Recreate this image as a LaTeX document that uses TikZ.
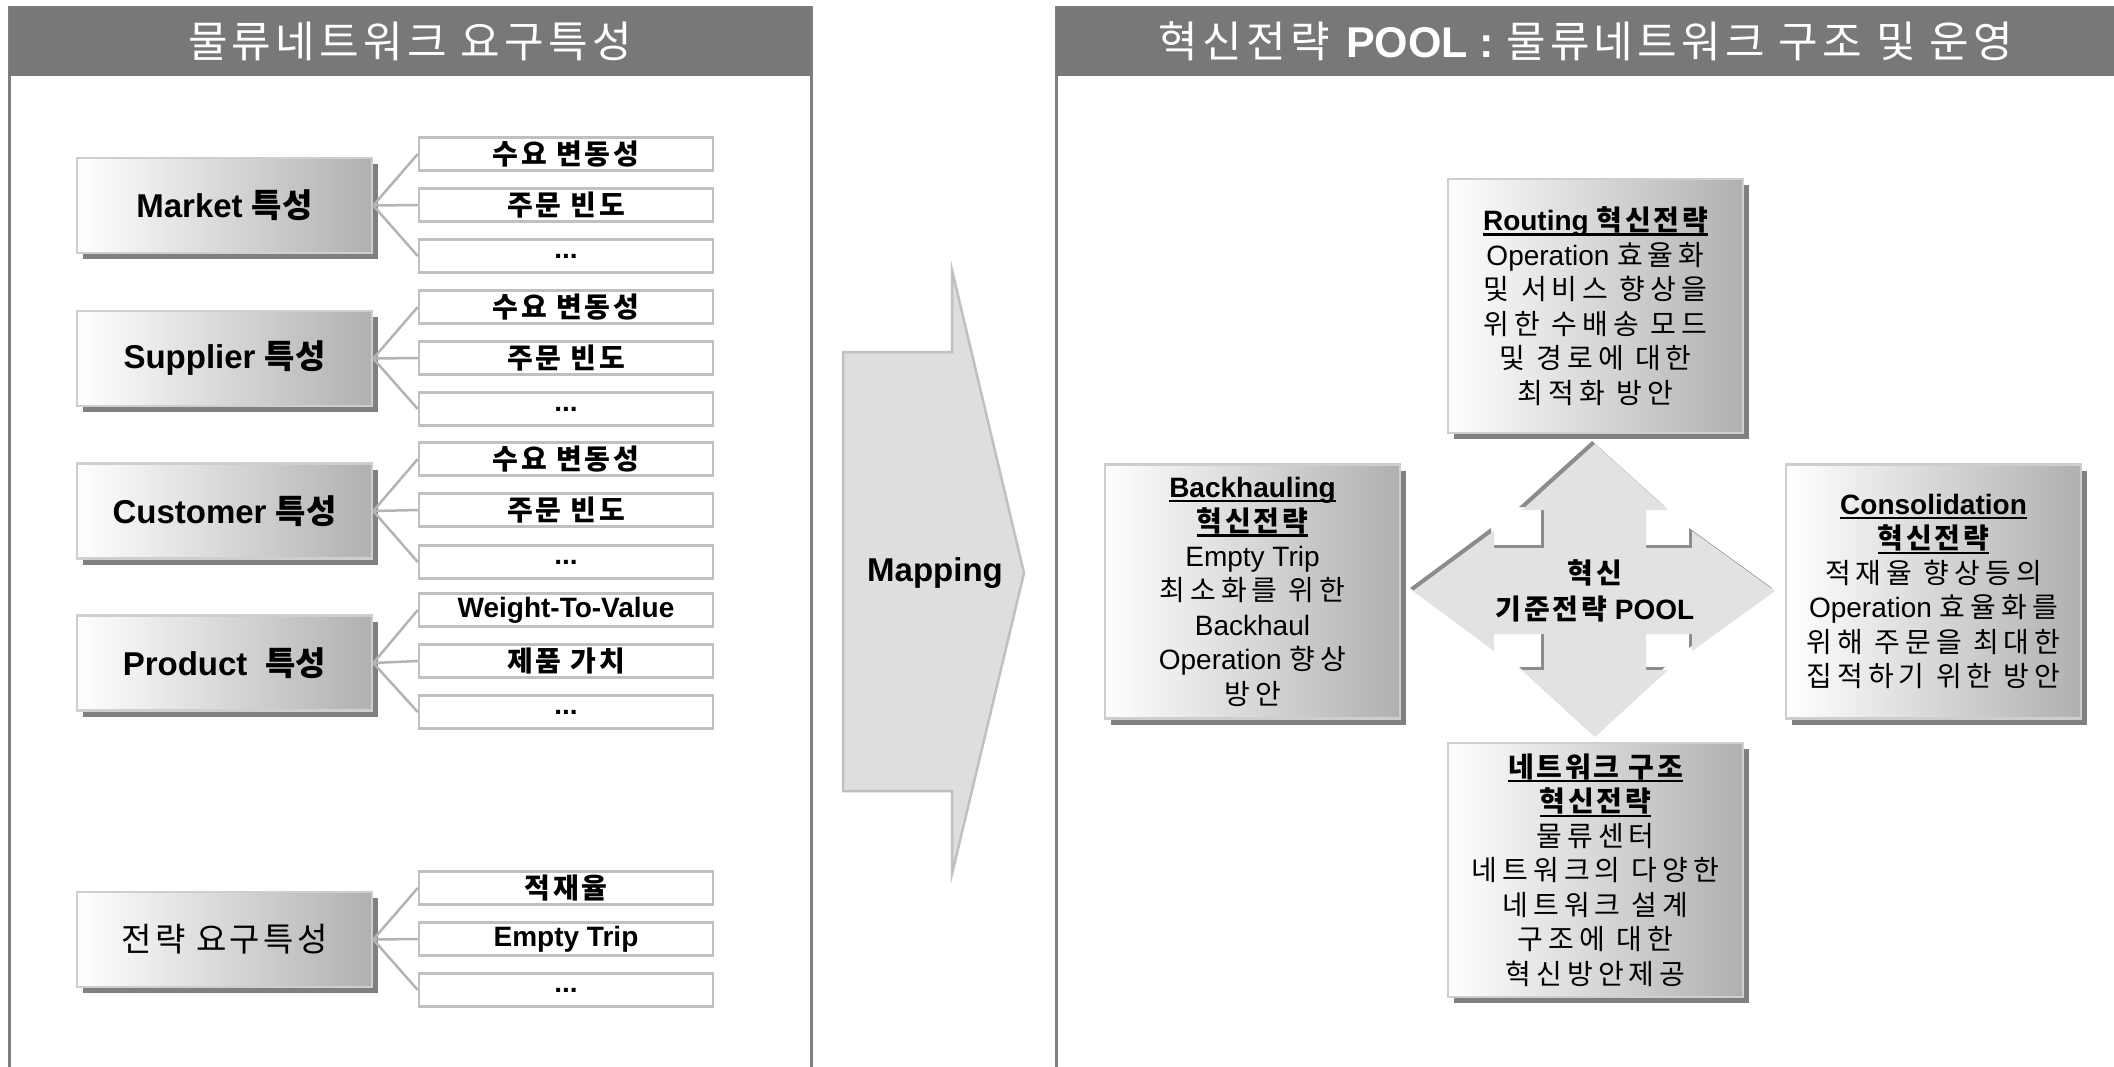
\documentclass[tikz,border=0pt]{standalone}
\usepackage{fontspec}
\setmainfont{Liberation Sans}
\newfontfamily\kr{Noto Sans CJK KR}
\newfontfamily\krm[LetterSpace=10]{Noto Sans CJK KR}
\newfontfamily\krw[LetterSpace=18]{Noto Sans CJK KR}
\usetikzlibrary{shadows}
\definecolor{hdrgray}{RGB}{120,120,120}
\definecolor{panelline}{RGB}{128,128,128}
\definecolor{boxedge}{RGB}{206,206,206}
\definecolor{boxright}{RGB}{176,176,176}
\definecolor{shadowgray}{RGB}{128,128,128}
\definecolor{subedge}{RGB}{192,192,192}
\definecolor{linkgray}{RGB}{180,180,180}
\definecolor{mapfill}{RGB}{222,222,222}
\definecolor{mapedge}{RGB}{192,192,192}
\definecolor{poolfill}{RGB}{226,226,226}
\definecolor{poolshade}{RGB}{140,140,140}
\newcommand\myul[1]{\setbox0\hbox{#1}\rlap{\rule[-5pt]{\wd0}{2.2pt}}\box0}
\begin{document}
\begin{tikzpicture}[x=1pt,y=-1pt,
  hdrtext/.style={text=white, font=\fontsize{43}{48}\selectfont, inner sep=0pt},
  gradbox/.style={shade, left color=white, right color=boxright, draw=boxedge, line width=2.5pt, inner sep=0pt,
    drop shadow={shadow xshift=6pt, shadow yshift=-6pt, fill=shadowgray, opacity=1}},
  mainbox/.style={gradbox, minimum width=295pt, minimum height=95pt, font=\fontsize{33}{38}\selectfont},
  bigbox/.style={gradbox, minimum width=295pt, minimum height=254pt, align=center, font=\fontsize{28}{34.5}\selectfont},
  subbox/.style={draw=subedge, fill=white, line width=2.5pt, minimum width=294pt, minimum height=33pt, inner sep=0pt, font=\fontsize{28}{32}\selectfont\bfseries},
  link/.style={draw=linkgray, line width=2.5pt},
  maptext/.style={font=\fontsize{33}{38}\selectfont\bfseries, inner sep=0pt},
  pooltext/.style={align=center, font=\fontsize{28}{36}\selectfont\bfseries, inner sep=0pt}
]
\fill[white] (0,0) rectangle (2114,1066);
\useasboundingbox (0,0) rectangle (2114,1066);

% panels
\draw[panelline,line width=3pt] (9,7) rectangle (811,1080);
\draw[panelline,line width=3pt] (1056,7) rectangle (2140,1080);
\fill[hdrgray] (9,7) rectangle (811,76);
\fill[hdrgray] (1056,7) rectangle (2140,76);
\node[hdrtext] (lhdr) at (410,41.5) {{\krm 물류네트워크 요구특성}};
\node[hdrtext] (rhdr) at (1586,41.5) {{\krm 혁신전략} \textbf{POOL :} {\krm 물류네트워크 구조 및 운영}};

% left main boxes
\node[mainbox] (mk) at (224.5,205.5) {\bfseries Market {\kr 특성}};
\node[mainbox] (sp) at (224.5,358.5) {\bfseries Supplier {\kr 특성}};
\node[mainbox] (cu) at (224.5,511) {\bfseries Customer {\kr 특성}};
\node[mainbox] (pr) at (224.5,663) {\bfseries Product\hspace{18pt}{\kr 특성}};
\node[mainbox] (st) at (224.5,939.5) {{\krm 전략 요구특성}};

% sub boxes
\node[subbox] (mk1) at (566,154) {{\krm 수요 변동성}};
\node[subbox] (mk2) at (566,205) {{\krm 주문 빈도}};
\node[subbox] (mk3) at (566,256) {...};
\node[subbox] (sp1) at (566,307) {{\krm 수요 변동성}};
\node[subbox] (sp2) at (566,358) {{\krm 주문 빈도}};
\node[subbox] (sp3) at (566,409) {...};
\node[subbox] (cu1) at (566,459) {{\krm 수요 변동성}};
\node[subbox] (cu2) at (566,510) {{\krm 주문 빈도}};
\node[subbox] (cu3) at (566,562) {...};
\node[subbox] (pr1) at (566,610) {Weight-To-Value};
\node[subbox] (pr2) at (566,661) {{\krm 제품 가치}};
\node[subbox] (pr3) at (566,712) {...};
\node[subbox] (st1) at (566,888) {{\krm 적재율}};
\node[subbox] (st2) at (566,939) {Empty Trip};
\node[subbox] (st3) at (566,990) {...};

\foreach \m in {mk,sp,cu,pr,st}{
  \foreach \k in {1,2,3}{
    \draw[link] (\m.east) -- (\m\k.west);
  }
}

% mapping arrow
\draw[fill=mapfill, draw=mapedge, line width=2.5pt, line join=miter]
  (843,352) -- (952,352) -- (952,270) -- (1024,573) -- (952,874) -- (952,791) -- (843,791) -- cycle;
\node[maptext] (map) at (935,573) {Mapping};

% center four-way arrow
\begin{scope}[xshift=-3pt,yshift=3pt]
\fill[poolshade] (1595,444) -- (1668,510) -- (1646,510) -- (1646,548) -- (1692,548) -- (1692,531) -- (1775,591)
  -- (1692,651) -- (1692,634) -- (1646,634) -- (1646,670) -- (1668,670) -- (1595,737) -- (1522,670)
  -- (1544,670) -- (1544,634) -- (1494,634) -- (1494,651) -- (1413,591) -- (1494,531) -- (1494,548)
  -- (1544,548) -- (1544,510) -- (1522,510) -- cycle;
\end{scope}
\fill[poolfill] (1595,444) -- (1668,510) -- (1646,510) -- (1646,548) -- (1692,548) -- (1692,531) -- (1775,591)
  -- (1692,651) -- (1692,634) -- (1646,634) -- (1646,670) -- (1668,670) -- (1595,737) -- (1522,670)
  -- (1544,670) -- (1544,634) -- (1494,634) -- (1494,651) -- (1413,591) -- (1494,531) -- (1494,548)
  -- (1544,548) -- (1544,510) -- (1522,510) -- cycle;
\node[pooltext] (pool) at (1595,591) {{\krm 혁신}\\{\krm 기준전략} POOL};

% right boxes
\node[bigbox] (rt) at (1595.5,306) {\myul{\bfseries Routing {\krm 혁신전략}}\\
  Operation {\krw 효율화}\\ {\krw 및 서비스 향상을}\\ {\krw 위한 수배송 모드}\\ {\krw 및 경로에 대한}\\ {\krw 최적화 방안}};
\node[bigbox] (bh) at (1252.5,591.5) {\myul{\bfseries Backhauling}\\ \myul{\bfseries\krm 혁신전략}\\
  Empty Trip\\ {\krw 최소화를 위한}\\ Backhaul\\ Operation {\krw 향상}\\ {\krw 방안}};
\node[bigbox] (cs) at (1933.5,591.5) {\myul{\bfseries Consolidation}\\ \myul{\bfseries\krm 혁신전략}\\
  {\krw 적재율 향상등의}\\ Operation {\krw 효율화를}\\ {\krw 위해 주문을 최대한}\\ {\krw 집적하기 위한 방안}};
\node[bigbox] (nw) at (1595.5,870) {\myul{\bfseries\krm 네트워크 구조}\\ \myul{\bfseries\krm 혁신전략}\\
  {\krw 물류센터}\\ {\krw 네트워크의 다양한}\\ {\krw 네트워크 설계}\\ {\krw 구조에 대한}\\ {\krw 혁신방안제공}};
\end{tikzpicture}
\end{document}
